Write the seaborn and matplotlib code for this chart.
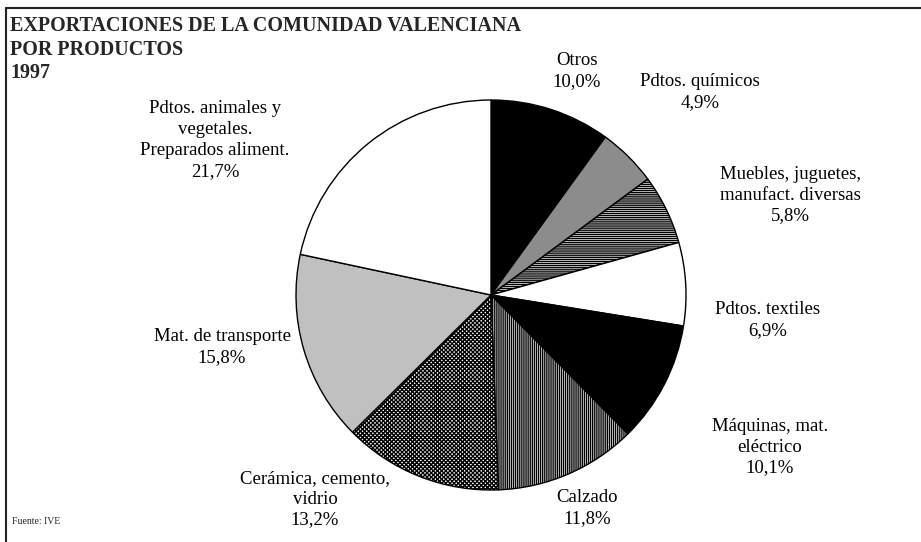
import matplotlib
matplotlib.use("Agg")
import matplotlib.pyplot as plt
import seaborn as sns
from matplotlib.lines import Line2D

# --- datos ---
categorias = ['Otros', 'Pdtos. químicos', 'Muebles, juguetes,\nmanufact. diversas',
              'Pdtos. textiles', 'Máquinas, mat.\neléctrico', 'Calzado',
              'Cerámica, cemento,\nvidrio', 'Mat. de transporte',
              'Pdtos. animales y\nvegetales.\nPreparados aliment.']
porcentajes = [10.0, 4.9, 5.8, 6.9, 10.1, 11.8, 13.2, 15.8, 21.7]
titulo = ['EXPORTACIONES DE LA COMUNIDAD VALENCIANA', 'POR PRODUCTOS', '1997']

# --- estilo ---
sns.set_style("white")
plt.rcParams['font.family'] = ['Liberation Serif', 'DejaVu Serif']
plt.rcParams['hatch.linewidth'] = 1.0

colores = ['black', '#8c8c8c', 'white', 'white', 'black', 'white', 'white', '#c0c0c0', 'white']
tramas = ['', '', '--------', '', '', '||||||||', 'xxxxxxxx', '', '']

# posiciones de las etiquetas (pixeles)
pos_etiquetas = [(577, 71), (700, 92), (790, 195), (768, 320), (770, 447),
                 (587, 508), (315, 499), (222, 347), (215, 140)]

fig = plt.figure(figsize=(9.21, 5.42), dpi=100)
ax = fig.add_axes([0, 0, 1, 1])

# eje y invertido: startangle=-90 apunta hacia arriba y el sentido queda horario
cunas, _ = ax.pie(porcentajes, colors=colores, startangle=-90, counterclock=True,
                  center=(491, 295), radius=195, frame=True,
                  wedgeprops=dict(edgecolor='black', linewidth=1.0))
for w, h in zip(cunas, tramas):
    w.set_hatch(h)
ax.set_xlim(0, 921)
ax.set_ylim(542, 0)
ax.set_aspect('auto')
ax.axis('off')

for cat, pct, (x, y) in zip(categorias, porcentajes, pos_etiquetas):
    txt = cat + '\n' + f"{pct:.1f}".replace('.', ',') + '%'
    ax.text(x, y, txt, ha='center', va='center', fontsize=13.5,
            linespacing=1.3, color='black')

for linea, y in zip(titulo, [26, 50, 73]):
    ax.text(10, y, linea, ha='left', va='center', fontsize=14.5, fontweight='bold')
ax.text(12, 521, 'Fuente: IVE', ha='left', va='center', fontsize=7)

# marco superior e izquierdo
fig.add_artist(Line2D([6 / 921, 1], [1 - 8 / 542, 1 - 8 / 542], color='#222222', linewidth=1.5))
fig.add_artist(Line2D([6 / 921, 6 / 921], [0, 1 - 8 / 542], color='#222222', linewidth=1.5))

fig.savefig('out.png', dpi=100)
